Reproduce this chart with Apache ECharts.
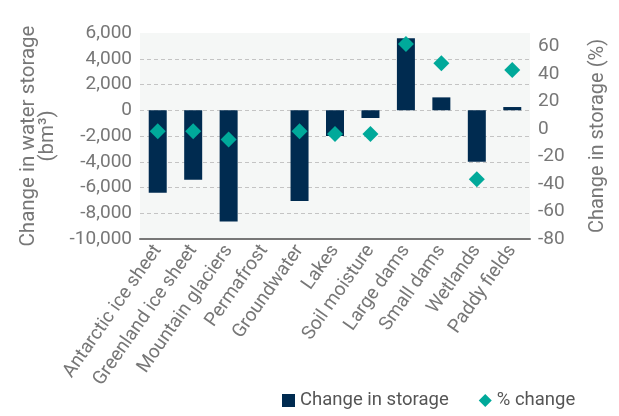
<!DOCTYPE html>
<html>
<head>
<meta charset="utf-8">
<script src="https://cdn.jsdelivr.net/npm/echarts@6/dist/echarts.min.js"></script>
<style>
  html, body { margin: 0; padding: 0; background: #fff; }
  #chart { width: 619px; height: 416px; }
</style>
</head>
<body>
<div id="chart"></div>
<script>
var categories = ['Antarctic ice sheet', 'Greenland ice sheet', 'Mountain glaciers', 'Permafrost',
  'Groundwater', 'Lakes', 'Soil moisture', 'Large dams', 'Small dams', 'Wetlands', 'Paddy fields'];
// change in water storage, bm3
var storageChange = [-6400, -5400, -8650, 0, -7050, -2000, -600, 5600, 1000, -4000, 250];
// change in storage, %
var percentChange = [-1.5, -1.5, -7.5, null, -1.5, -3.5, -3.5, 62, 48, -36.5, 43];

var grey = '#777777';
var chart = echarts.init(document.getElementById('chart'));

var option = {
  textStyle: { fontFamily: 'Roboto' },
  grid: {
    left: 140, right: 89, top: 33, bottom: 177,
    show: true, backgroundColor: '#f5f7f6', borderWidth: 0
  },
  legend: {
    bottom: 1, left: 277,
    itemWidth: 13, itemHeight: 13, itemGap: 30,
    textStyle: { color: '#555', fontSize: 18.5 },
    data: [
      { name: 'Change in storage', icon: 'rect' },
      { name: '% change', icon: 'diamond', itemStyle: { color: '#00a99a' } }
    ]
  },
  xAxis: {
    type: 'category',
    data: categories,
    axisLine: { onZero: false, lineStyle: { color: grey, width: 2 } },
    axisTick: { length: 6, lineStyle: { color: grey, width: 2 } },
    axisLabel: { interval: 0, rotate: 55, fontSize: 19, color: grey, margin: 8 }
  },
  yAxis: [
    {
      type: 'value',
      min: -10000, max: 6000, interval: 2000,
      name: 'Change in water storage\n(bm³)',
      nameLocation: 'middle', nameGap: 78,
      nameTextStyle: { fontSize: 20.5, color: grey, lineHeight: 19 },
      axisLine: { show: false },
      axisTick: { show: false },
      axisLabel: {
        fontSize: 19, color: grey, margin: 8,
        formatter: function (v) { return v.toLocaleString('en-US'); }
      },
      splitLine: { showMinLine: false, showMaxLine: false, lineStyle: { color: '#c4c4c4', type: [4, 3] } }
    },
    {
      type: 'value',
      min: -80, max: 70, interval: 20,
      name: 'Change in storage (%)',
      nameLocation: 'middle', nameGap: 58,
      nameTextStyle: { fontSize: 20, color: grey },
      axisLine: { show: false },
      axisTick: { show: false },
      axisLabel: { fontSize: 19, color: grey, margin: 8, showMaxLabel: false },
      splitLine: { show: false }
    }
  ],
  series: [
    {
      name: 'Change in storage',
      type: 'bar',
      data: storageChange,
      barWidth: 18,
      itemStyle: { color: '#002b50' }
    },
    {
      name: '% change',
      type: 'scatter',
      yAxisIndex: 1,
      data: percentChange,
      symbol: 'diamond',
      symbolSize: 16,
      itemStyle: { color: '#00a99a', opacity: 1 }
    }
  ]
};

chart.setOption(option);
</script>
</body>
</html>
